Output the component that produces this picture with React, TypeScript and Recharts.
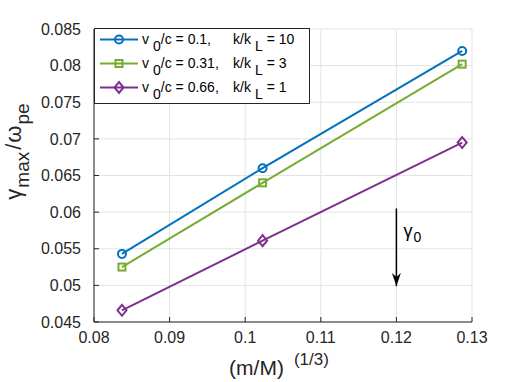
import { LineChart, Line, XAxis, YAxis, CartesianGrid, Legend } from "recharts";

const FONT = '"Liberation Sans", Arial, Helvetica, sans-serif';
const AXIS = "#262626";

const massRatio = [0.0837, 0.1023, 0.1287];
const growthSlow = [0.0543, 0.066, 0.082];
const growthMid = [0.0525, 0.064, 0.0802];
const growthFast = [0.0466, 0.0561, 0.0695];

const xTicks = [0.08, 0.09, 0.1, 0.11, 0.12, 0.13];
const yTicks = [0.045, 0.05, 0.055, 0.06, 0.065, 0.07, 0.075, 0.08, 0.085];

const arrowX = 0.12;
const arrowY = [0.0605, 0.0499];

const series = [
  { key: "slow", color: "#0072BD", marker: "circle", v0: "0.1,", kL: "10" },
  { key: "mid", color: "#77AC30", marker: "square", v0: "0.31,", kL: "3" },
  { key: "fast", color: "#7E2F8E", marker: "diamond", v0: "0.66,", kL: "1" },
];

const rows = massRatio.map((x, i) => ({
  x,
  slow: growthSlow[i],
  mid: growthMid[i],
  fast: growthFast[i],
}));

const arrowData = arrowY.map((y) => ({ x: arrowX, y }));

const Marker = ({ type, cx, cy, color }: any) => {
  if (type === "circle")
    return <circle cx={cx} cy={cy} r={4} fill="none" stroke={color} strokeWidth={2} />;
  if (type === "square")
    return <rect x={cx - 3.5} y={cy - 3.5} width={7} height={7} fill="none" stroke={color} strokeWidth={2} />;
  return (
    <polygon
      points={`${cx},${cy - 5.5} ${cx + 4.5},${cy} ${cx},${cy + 5.5} ${cx - 4.5},${cy}`}
      fill="none"
      stroke={color}
      strokeWidth={2}
    />
  );
};

const ArrowDot = (p: any) => {
  const { cx, cy, index } = p;
  if (index === 0) {
    return (
      <text key="lbl" x={cx + 7} y={cy + 29} fontSize={18} fontFamily={FONT} fill="#000">
        γ<tspan dx={1} dy={5} fontSize={14}>0</tspan>
      </text>
    );
  }
  return (
    <polygon
      key="head"
      points={`${cx},${cy} ${cx - 4.5},${cy - 13} ${cx},${cy - 9} ${cx + 4.5},${cy - 13}`}
      fill="#000"
    />
  );
};

const LegendBox = () => (
  <svg width={216} height={76} style={{ display: "block" }}>
    <rect x={0.5} y={0.5} width={215} height={75} fill="#fff" stroke={AXIS} />
    {series.map((s, i) => {
      const y = 11.5 + i * 24;
      return (
        <g key={s.key} fontFamily={FONT} fontSize={14} fill="#000">
          <line x1={6} x2={44} y1={y} y2={y} stroke={s.color} strokeWidth={2} />
          <Marker type={s.marker} cx={25} cy={y} color={s.color} />
          <text x={48} y={y + 4.5}>
            v<tspan dx={4} dy={7}>0</tspan>
            <tspan dy={-7}>/c = {s.v0}</tspan>
          </text>
          <text x={139} y={y + 4.5}>
            k/k<tspan dx={4} dy={7}>L</tspan>
            <tspan dx={4} dy={-7}>= {s.kL}</tspan>
          </text>
        </g>
      );
    })}
  </svg>
);

const YLabel = (p: any) => {
  const { viewBox } = p;
  const cx = 21;
  const cy = viewBox.y + viewBox.height / 2 - 24;
  return (
    <text
      x={cx}
      y={cy}
      textAnchor="middle"
      transform={`rotate(-90, ${cx}, ${cy})`}
      fontFamily={FONT}
      fontSize={22}
      fill={AXIS}
    >
      γ<tspan dx={1} dy={8} fontSize={19}>max</tspan>
      <tspan dx={2} dy={-8}>/</tspan>
      <tspan dx={1}>ω</tspan>
      <tspan dx={1} dy={8} fontSize={19}>pe</tspan>
    </text>
  );
};

const XLabel = (p: any) => {
  const { viewBox } = p;
  const cx = viewBox.x + viewBox.width / 2 - 4;
  return (
    <text x={cx} y={375} textAnchor="middle" fontFamily={FONT} fontSize={21} fill={AXIS}>
      (m/M)
      <tspan dx={10} dy={-10} fontSize={17}>(1/3)</tspan>
    </text>
  );
};

const tickStyle = { fill: AXIS, fontSize: 16, fontFamily: FONT };

export default function App() {
  return (
    <div style={{ position: "absolute", left: 0, top: 0, background: "#fff" }}>
      <LineChart
        width={521}
        height={382}
        data={rows}
        margin={{ top: 29, right: 49, bottom: 30, left: 34 }}
      >
        <CartesianGrid stroke="#e3e3e3" strokeWidth={1} />
        <XAxis
          dataKey="x"
          type="number"
          domain={[0.08, 0.13]}
          ticks={xTicks}
          interval={0}
          allowDataOverflow
          height={30}
          tickSize={-5}
          tickMargin={15}
          stroke={AXIS}
          tick={tickStyle}
          label={XLabel}
        />
        <XAxis
          xAxisId="top"
          orientation="top"
          type="number"
          domain={[0.08, 0.13]}
          ticks={xTicks}
          interval={0}
          allowDataOverflow
          height={0}
          tickSize={-5}
          tick={false}
          stroke={AXIS}
        />
        <YAxis
          type="number"
          domain={[0.045, 0.085]}
          ticks={yTicks}
          interval={0}
          allowDataOverflow
          width={60}
          tickSize={-5}
          tickMargin={18}
          stroke={AXIS}
          tick={tickStyle}
          label={YLabel}
        />
        <YAxis
          yAxisId="right"
          orientation="right"
          type="number"
          domain={[0.045, 0.085]}
          ticks={yTicks}
          interval={0}
          allowDataOverflow
          width={0}
          tickSize={-5}
          tick={false}
          stroke={AXIS}
        />
        {series.map((s) => (
          <Line
            key={s.key}
            dataKey={s.key}
            stroke={s.color}
            strokeWidth={2}
            isAnimationActive={false}
            dot={(p: any) => <Marker key={`${s.key}-${p.index}`} type={s.marker} cx={p.cx} cy={p.cy} color={s.color} />}
            activeDot={false}
          />
        ))}
        <Line
          data={arrowData}
          dataKey="y"
          stroke="#000"
          strokeWidth={1.5}
          isAnimationActive={false}
          dot={ArrowDot}
          activeDot={false}
          legendType="none"
        />
        <Legend
          layout="horizontal"
          verticalAlign="middle"
          align="center"
          wrapperStyle={{ left: 94, top: 28, width: 216, height: 76 }}
          content={() => <LegendBox />}
        />
      </LineChart>
    </div>
  );
}
